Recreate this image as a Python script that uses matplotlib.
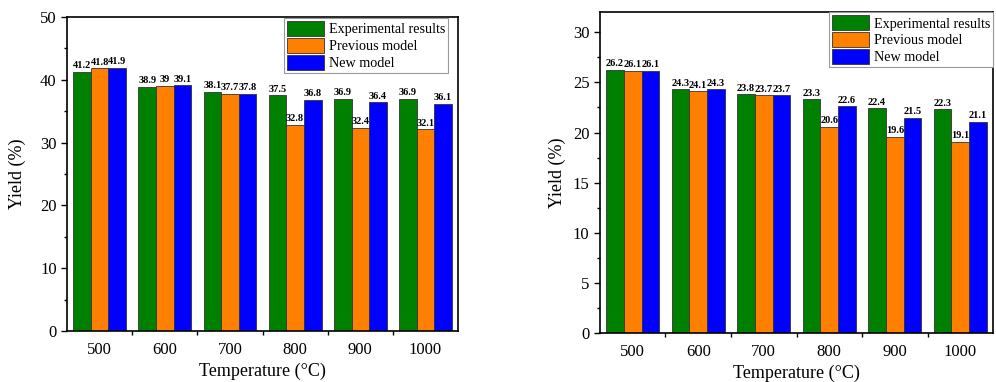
import numpy as np
import matplotlib
matplotlib.use("Agg")
import matplotlib.pyplot as plt
from matplotlib.ticker import MultipleLocator, FixedLocator

plt.rcParams["font.family"] = ["Liberation Serif", "DejaVu Serif"]

temps = ["500", "600", "700", "800", "900", "1000"]
series_names = ["Experimental results", "Previous model", "New model"]
colors = ["#008000", "#ff8000", "#0000ff"]

# left panel
exp_a = [41.2, 38.9, 38.1, 37.5, 36.9, 36.9]
prev_a = [41.8, 39, 37.7, 32.8, 32.4, 32.1]
new_a = [41.9, 39.1, 37.8, 36.8, 36.4, 36.1]

# right panel
exp_b = [26.2, 24.3, 23.8, 23.3, 22.4, 22.3]
prev_b = [26.1, 24.1, 23.7, 20.6, 19.6, 19.1]
new_b = [26.1, 24.3, 23.7, 22.6, 21.5, 21.1]


def panel(ax, data, ymax, major, minor, legend_anchor):
    x = np.arange(len(temps))
    w = 0.27
    for i, (vals, name, c) in enumerate(zip(data, series_names, colors)):
        pos = x + (i - 1) * w
        ax.bar(pos, vals, w, color=c, edgecolor="#333333", linewidth=0.6, label=name)
        for px, v in zip(pos, vals):
            ax.text(px, v + ymax * 0.006, f"{v:g}", ha="center", va="bottom",
                    fontsize=7.5, fontweight="bold")
    ax.set_xlim(-0.5, len(temps) - 0.5)
    ax.set_ylim(0, ymax)
    ax.set_xticks(x)
    ax.set_xticklabels(temps)
    ax.xaxis.set_minor_locator(FixedLocator(x[:-1] + 0.5))
    ax.yaxis.set_major_locator(MultipleLocator(major))
    ax.yaxis.set_minor_locator(MultipleLocator(minor))
    ax.tick_params(axis="x", which="major", length=0, labelsize=12, pad=8)
    ax.tick_params(axis="x", which="minor", length=3, width=1, direction="out")
    ax.tick_params(axis="y", which="major", length=4, width=1, labelsize=12, direction="out")
    ax.tick_params(axis="y", which="minor", length=2.5, width=1, direction="out")
    for s in ax.spines.values():
        s.set_linewidth(1.2)
    ax.set_xlabel("Temperature (\u00b0C)", fontsize=13, labelpad=3.5)
    ax.set_ylabel("Yield (%)", fontsize=13)
    leg = ax.legend(loc="upper right", bbox_to_anchor=legend_anchor, fontsize=10.2,
                    fancybox=False, edgecolor="#999999", framealpha=1,
                    borderpad=0.2, labelspacing=0.1, handlelength=2.6,
                    handleheight=1.3, handletextpad=0.35, borderaxespad=0)
    leg.get_frame().set_linewidth(0.8)


fig = plt.figure(figsize=(9.96, 3.82), dpi=100)
ax1 = fig.add_axes([0.0673, 0.1335, 0.3926, 0.822])
ax2 = fig.add_axes([0.6024, 0.128, 0.3946, 0.840])
panel(ax1, [exp_a, prev_a, new_a], 50, 10, 5, (0.975, 0.997))
panel(ax2, [exp_b, prev_b, new_b], 32, 5, 2.5, (1.0, 1.0))
ax1.yaxis.labelpad = 10
ax2.yaxis.labelpad = 5
fig.savefig("out.png", dpi=100)
